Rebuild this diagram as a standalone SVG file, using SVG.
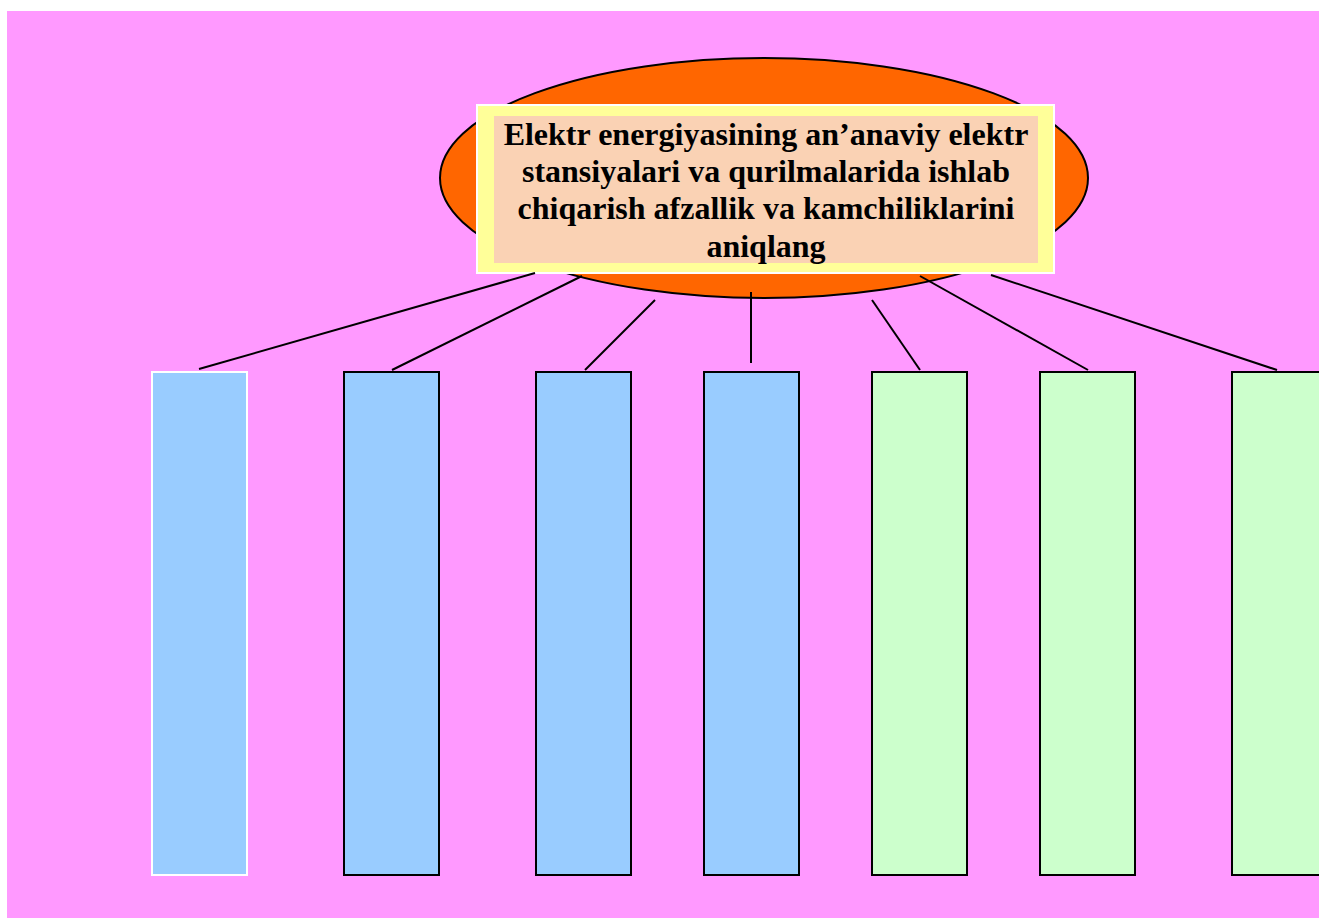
<svg xmlns="http://www.w3.org/2000/svg" width="1319" height="918" viewBox="0 0 1319 918">
<style>
.conn line{stroke:#000;stroke-width:2}
.blue{fill:#99CCFF;stroke:#000;stroke-width:2}
.green{fill:#CCFFCC;stroke:#000;stroke-width:2}
.title{font-family:"Liberation Serif","Times New Roman",serif;font-weight:bold;font-size:32px;fill:#000;text-anchor:middle}
</style>
<rect x="0" y="0" width="1319" height="918" fill="#fff"/>
<rect x="7" y="11" width="1312" height="907" fill="#FF99FF"/>
<g id="center">
<ellipse cx="764" cy="178" rx="324" ry="120" fill="#FF6600" stroke="#000" stroke-width="2"/>
<rect x="477" y="105" width="577" height="168" fill="#FFFF99" stroke="#fff" stroke-width="2"/>
<rect x="494" y="116" width="544" height="147" fill="#FAD2B4"/>
<text class="title" x="766" y="145">Elektr energiyasining an’anaviy elektr</text>
<text class="title" x="766" y="182">stansiyalari va qurilmalarida ishlab</text>
<text class="title" x="766" y="219">chiqarish afzallik va kamchiliklarini</text>
<text class="title" x="766" y="257">aniqlang</text>
</g>
<g id="connectors" class="conn">
<line x1="535" y1="273" x2="199" y2="369"/>
<line x1="582" y1="276" x2="392" y2="370"/>
<line x1="655" y1="300" x2="585" y2="370"/>
<line x1="751" y1="292" x2="751" y2="363"/>
<line x1="872" y1="300" x2="920" y2="370"/>
<line x1="920" y1="276" x2="1088" y2="370"/>
<line x1="991" y1="275" x2="1277" y2="370"/>
</g>
<g id="box1"><rect x="152" y="372" width="95" height="503" fill="#99CCFF" stroke="#fff" stroke-width="2"/></g>
<g id="box2"><rect class="blue" x="344" y="372" width="95" height="503"/></g>
<g id="box3"><rect class="blue" x="536" y="372" width="95" height="503"/></g>
<g id="box4"><rect class="blue" x="704" y="372" width="95" height="503"/></g>
<g id="box5"><rect class="green" x="872" y="372" width="95" height="503"/></g>
<g id="box6"><rect class="green" x="1040" y="372" width="95" height="503"/></g>
<g id="box7"><rect class="green" x="1232" y="372" width="95" height="503"/></g>
</svg>
